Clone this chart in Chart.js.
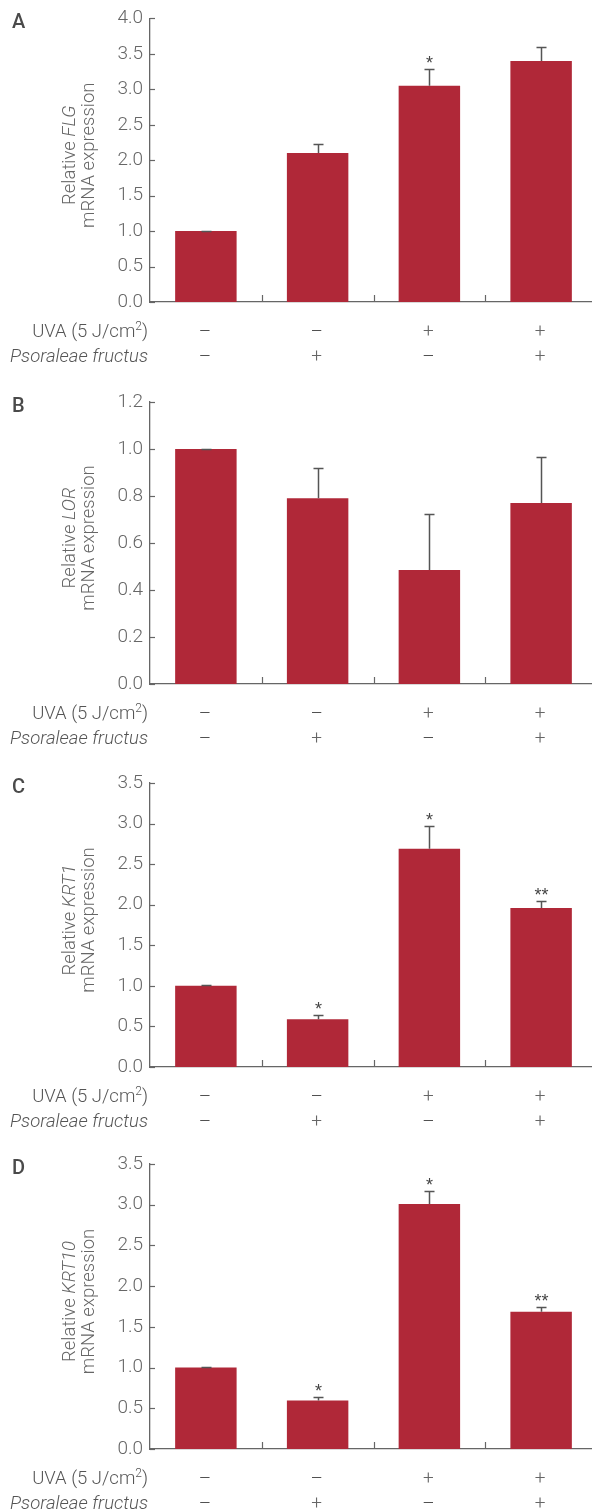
<!DOCTYPE html>
<html>
<head>
<meta charset="utf-8">
<script src="https://cdn.jsdelivr.net/npm/chart.js@4.4.1/dist/chart.umd.min.js"></script>
<style>
  html, body { margin: 0; padding: 0; background: #fff; overflow: hidden; }
  body { width: 592px; height: 1512px; position: relative; }
  .panel { position: absolute; left: 0; }
  canvas { display: block; }
</style>
</head>
<body>
<div class="panel" style="top:0px"><canvas id="chartA" width="600" height="380"></canvas></div>
<div class="panel" style="top:380px"><canvas id="chartB" width="600" height="380"></canvas></div>
<div class="panel" style="top:760px"><canvas id="chartC" width="600" height="380"></canvas></div>
<div class="panel" style="top:1140px"><canvas id="chartD" width="600" height="372"></canvas></div>
<script>
// treatment groups
const groups = ['Control', 'PF', 'UVA', 'UVA + PF'];
const uvaSigns = ['\u2013', '\u2013', '+', '+'];
const pfSigns = ['\u2013', '+', '\u2013', '+'];

// FLG (panel A)
const flgMean = [1.00, 2.10, 3.05, 3.40];
const flgErr = [0.005, 0.13, 0.24, 0.20];
const flgStars = ['', '', '*', ''];
const flgTicks = [0, 0.5, 1.0, 1.5, 2.0, 2.5, 3.0, 3.5, 4.0];

// LOR (panel B)
const lorMean = [1.00, 0.79, 0.485, 0.77];
const lorErr = [0.002, 0.13, 0.24, 0.195];
const lorStars = ['', '', '', ''];
const lorTicks = [0, 0.2, 0.4, 0.6, 0.8, 1.0, 1.2];

// KRT1 (panel C)
const krt1Mean = [1.00, 0.59, 2.69, 1.96];
const krt1Err = [0.005, 0.05, 0.28, 0.08];
const krt1Stars = ['', '*', '*', '**'];
const krt1Ticks = [0, 0.5, 1.0, 1.5, 2.0, 2.5, 3.0, 3.5];

// KRT10 (panel D)
const krt10Mean = [1.00, 0.595, 3.01, 1.685];
const krt10Err = [0.005, 0.045, 0.16, 0.065];
const krt10Stars = ['', '*', '*', '**'];
const krt10Ticks = [0, 0.5, 1.0, 1.5, 2.0, 2.5, 3.0, 3.5];

const FONT = 'Roboto, "Liberation Sans", sans-serif';
const BAR_COLOR = '#B02838';
const AXIS_COLOR = '#666';

const panels = [
  { id: 'chartA', letter: 'A', gene: 'FLG', mean: flgMean, err: flgErr, stars: flgStars, ticks: flgTicks, step: 0.5, height: 380, areaTop: 18, areaBottom: 302 },
  { id: 'chartB', letter: 'B', gene: 'LOR', mean: lorMean, err: lorErr, stars: lorStars, ticks: lorTicks, step: 0.2, height: 380, areaTop: 22, areaBottom: 304 },
  { id: 'chartC', letter: 'C', gene: 'KRT1', mean: krt1Mean, err: krt1Err, stars: krt1Stars, ticks: krt1Ticks, step: 0.5, height: 380, areaTop: 23, areaBottom: 307 },
  { id: 'chartD', letter: 'D', gene: 'KRT10', mean: krt10Mean, err: krt10Err, stars: krt10Stars, ticks: krt10Ticks, step: 0.5, height: 372, areaTop: 24, areaBottom: 309 },
];

// draws error bars, stars, axis ticks, titles and the treatment rows
function makeDecor(p) {
  return {
    id: 'decor',
    afterDraw(chart) {
      const { ctx, chartArea, scales: { y } } = chart;
      const meta = chart.getDatasetMeta(0);
      const fN = `300 18.5px ${FONT}`;
      const fI = `italic 300 18.5px ${FONT}`;
      ctx.save();

      // inward y ticks
      ctx.strokeStyle = AXIS_COLOR;
      ctx.lineWidth = 1.2;
      p.ticks.forEach(v => {
        const py = Math.round(y.getPixelForValue(v)) + 0.5;
        ctx.beginPath();
        ctx.moveTo(chartArea.left, py);
        ctx.lineTo(chartArea.left + 5, py);
        ctx.stroke();
      });
      // x ticks between groups
      for (let i = 0; i < meta.data.length - 1; i++) {
        const px = Math.round((meta.data[i].x + meta.data[i + 1].x) / 2) + 0.5;
        ctx.beginPath();
        ctx.moveTo(px, chartArea.bottom);
        ctx.lineTo(px, chartArea.bottom - 7);
        ctx.stroke();
      }

      // error bars + stars
      ctx.strokeStyle = '#555';
      ctx.lineWidth = 1.5;
      meta.data.forEach((bar, i) => {
        const x = Math.round(bar.x) + 0.5;
        const y0 = y.getPixelForValue(p.mean[i]);
        const y1 = Math.round(y.getPixelForValue(p.mean[i] + p.err[i])) + 0.5;
        ctx.beginPath();
        ctx.moveTo(x, y0);
        ctx.lineTo(x, y1);
        ctx.moveTo(x - 5, y1);
        ctx.lineTo(x + 5, y1);
        ctx.stroke();
        if (p.stars[i]) {
          ctx.fillStyle = '#444';
          ctx.font = `18px "Liberation Sans", sans-serif`;
          ctx.textAlign = 'center';
          ctx.textBaseline = 'alphabetic';
          ctx.fillText(p.stars[i], x, y1 - 1);
        }
      });

      // panel letter
      ctx.fillStyle = '#4a4a4a';
      ctx.font = `500 20px ${FONT}`;
      ctx.textAlign = 'left';
      ctx.textBaseline = 'alphabetic';
      ctx.fillText(p.letter, 12, chartArea.top + 10);

      // y axis title, two lines, gene name in italics
      const cy = (chartArea.top + chartArea.bottom) / 2 - 5;
      ctx.save();
      ctx.translate(70, cy);
      ctx.rotate(-Math.PI / 2);
      ctx.fillStyle = '#666';
      ctx.textBaseline = 'middle';
      ctx.font = fN;
      const w1 = ctx.measureText('Relative ').width;
      ctx.font = fI;
      const w2 = ctx.measureText(p.gene).width;
      const sx = -(w1 + w2) / 2;
      ctx.textAlign = 'left';
      ctx.font = fN;
      ctx.fillText('Relative ', sx, 0);
      ctx.font = fI;
      ctx.fillText(p.gene, sx + w1, 0);
      ctx.font = fN;
      ctx.textAlign = 'center';
      ctx.fillText('mRNA expression', 0, 19);
      ctx.restore();

      // treatment rows
      const r1 = chartArea.bottom + 30;
      const r2 = chartArea.bottom + 55;
      const right = 148;
      ctx.fillStyle = '#555';
      ctx.textBaseline = 'middle';
      ctx.textAlign = 'left';
      ctx.font = fN;
      const wa = ctx.measureText('UVA (5 J/cm').width;
      const wc = ctx.measureText(')').width;
      ctx.font = `300 12px ${FONT}`;
      const ws = ctx.measureText('2').width;
      let start = right - wa - ws - wc;
      ctx.font = fN;
      ctx.fillText('UVA (5 J/cm', start, r1);
      ctx.font = `300 12px ${FONT}`;
      ctx.fillText('2', start + wa, r1 - 5);
      ctx.font = fN;
      ctx.fillText(')', start + wa + ws, r1);

      ctx.font = fI;
      ctx.textAlign = 'right';
      ctx.fillText('Psoraleae fructus', right, r2);

      ctx.textAlign = 'center';
      meta.data.forEach((bar, i) => {
        ctx.font = `300 19px ${FONT}`;
        ctx.fillStyle = uvaSigns[i] === '+' ? '#666' : '#444';
        ctx.fillText(uvaSigns[i], bar.x - 1, r1);
        ctx.fillStyle = pfSigns[i] === '+' ? '#666' : '#444';
        ctx.fillText(pfSigns[i], bar.x - 1, r2);
      });

      ctx.restore();
    }
  };
}

panels.forEach(p => {
  new Chart(document.getElementById(p.id), {
    type: 'bar',
    data: {
      labels: groups,
      datasets: [{
        data: p.mean,
        backgroundColor: BAR_COLOR,
        borderWidth: 0,
        barPercentage: 0.55,
        categoryPercentage: 1.0,
      }]
    },
    options: {
      responsive: false,
      animation: false,
      devicePixelRatio: 1,
      layout: { padding: { top: p.areaTop, right: 3, left: 0, bottom: 0 } },
      plugins: { legend: { display: false }, tooltip: { enabled: false } },
      scales: {
        x: {
          offset: true,
          grid: { display: false, drawTicks: false },
          border: { display: true, color: AXIS_COLOR, width: 1.3 },
          ticks: { display: false },
          afterFit: s => { s.height = p.height - p.areaBottom; },
        },
        y: {
          min: 0,
          max: p.ticks[p.ticks.length - 1],
          grid: { display: false, drawTicks: false },
          border: { display: true, color: AXIS_COLOR, width: 1.3 },
          ticks: {
            stepSize: p.step,
            padding: 7,
            color: '#666',
            font: { family: FONT, size: 19, weight: 300 },
            callback: v => Number(v).toFixed(1),
          },
          afterFit: s => { s.width = 150; },
        }
      }
    },
    plugins: [makeDecor(p)]
  });
});
</script>
</body>
</html>
